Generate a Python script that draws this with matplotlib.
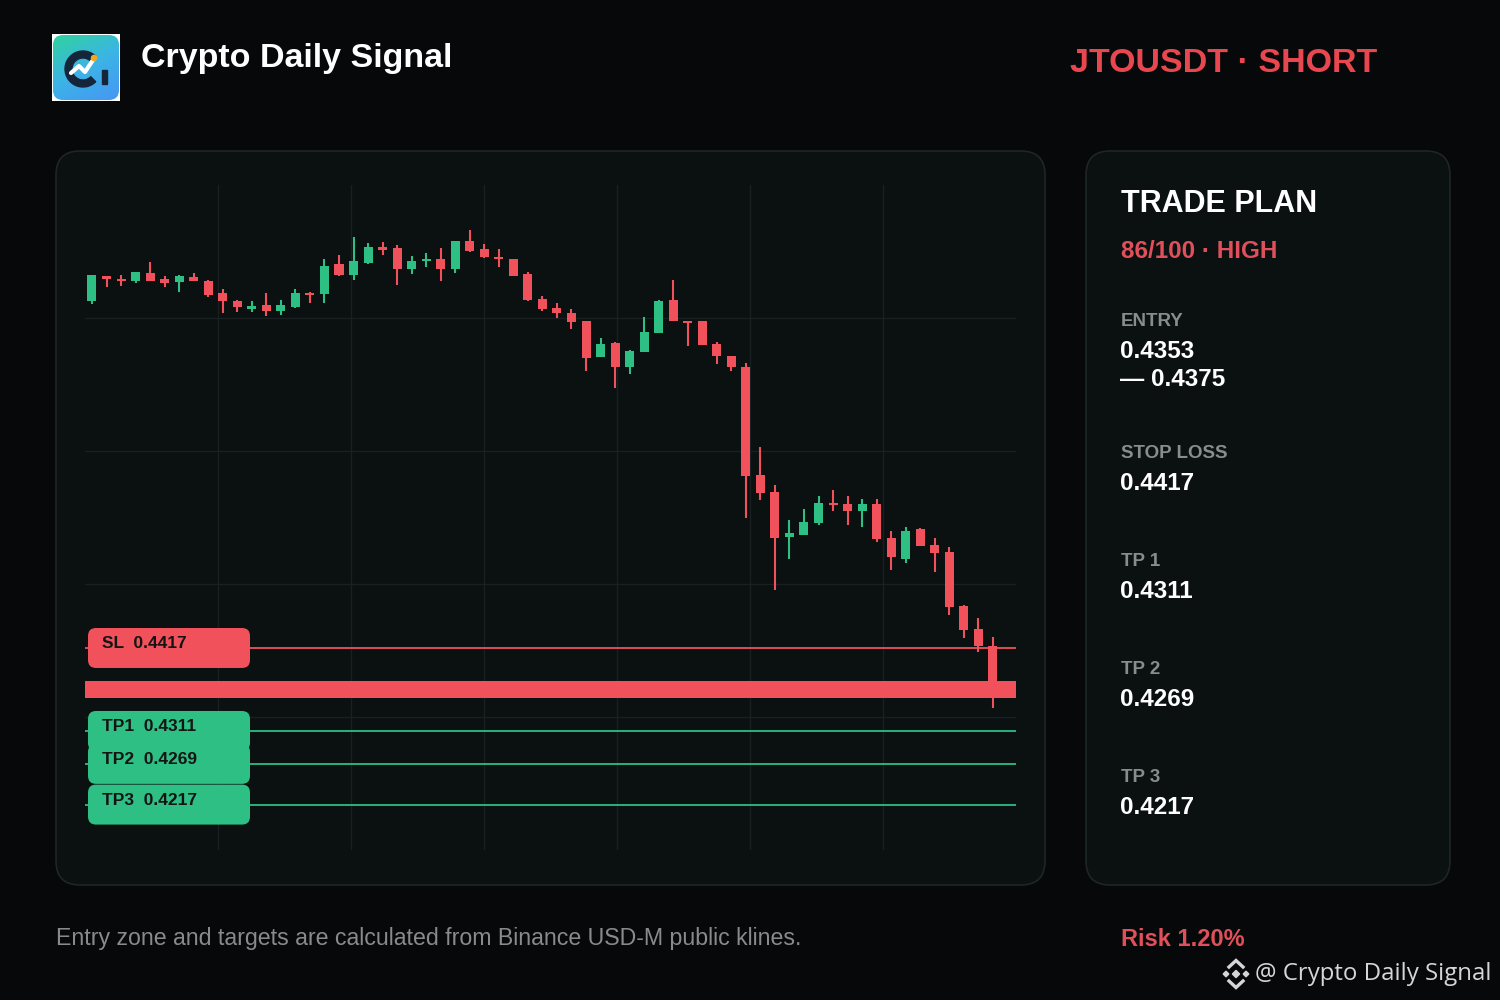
import numpy as np
import matplotlib.pyplot as plt
from matplotlib.patches import FancyBboxPatch, Polygon, Circle, Wedge, Rectangle
from matplotlib.colors import LinearSegmentedColormap

plt.rcParams['font.family'] = ['Liberation Sans', 'DejaVu Sans']

BG = '#060809'
PANEL = '#0b1011'
EDGE = '#1e2628'
GRID = '#1a2022'
RED = '#f0515b'
GREEN = '#2dbf84'
GRAY = '#878c8e'

symbol = 'JTOUSDT'
side = 'SHORT'
score = '86/100 · HIGH'
risk = 'Risk 1.20%'

# 1h klines
opens = [0.4860, 0.4892, 0.4888, 0.4886, 0.4896, 0.4888, 0.4884, 0.4891, 0.4886, 0.4870,
         0.4860, 0.4850, 0.4855, 0.4847, 0.4853, 0.4870, 0.4869, 0.4907, 0.4893, 0.4909,
         0.4929, 0.4928, 0.4901, 0.4911, 0.4914, 0.4901, 0.4937, 0.4927, 0.4916, 0.4914,
         0.4895, 0.4863, 0.4851, 0.4845, 0.4835, 0.4789, 0.4807, 0.4776, 0.4795, 0.4819,
         0.4861, 0.4835, 0.4835, 0.4805, 0.4790, 0.4776, 0.4638, 0.4616, 0.4559, 0.4561,
         0.4577, 0.4602, 0.4601, 0.4592, 0.4601, 0.4558, 0.4531, 0.4569, 0.4549, 0.4540,
         0.4471, 0.4441, 0.4420]
highs = [0.4893, 0.4892, 0.4893, 0.4897, 0.4910, 0.4892, 0.4893, 0.4896, 0.4887, 0.4876,
         0.4861, 0.4860, 0.4870, 0.4861, 0.4876, 0.4872, 0.4914, 0.4919, 0.4942, 0.4934,
         0.4936, 0.4932, 0.4918, 0.4921, 0.4928, 0.4937, 0.4951, 0.4933, 0.4927, 0.4914,
         0.4897, 0.4867, 0.4858, 0.4850, 0.4835, 0.4813, 0.4808, 0.4798, 0.4840, 0.4861,
         0.4887, 0.4835, 0.4835, 0.4808, 0.4790, 0.4781, 0.4674, 0.4625, 0.4580, 0.4595,
         0.4611, 0.4619, 0.4611, 0.4607, 0.4607, 0.4566, 0.4572, 0.4570, 0.4558, 0.4546,
         0.4472, 0.4455, 0.4431]
lows = [0.4856, 0.4878, 0.4879, 0.4883, 0.4886, 0.4878, 0.4872, 0.4886, 0.4865, 0.4845,
        0.4846, 0.4846, 0.4841, 0.4842, 0.4851, 0.4858, 0.4858, 0.4892, 0.4887, 0.4907,
        0.4919, 0.4881, 0.4895, 0.4904, 0.4886, 0.4896, 0.4923, 0.4915, 0.4904, 0.4892,
        0.4860, 0.4847, 0.4839, 0.4824, 0.4771, 0.4789, 0.4749, 0.4767, 0.4795, 0.4819,
        0.4835, 0.4803, 0.4804, 0.4780, 0.4771, 0.4583, 0.4606, 0.4491, 0.4531, 0.4561,
        0.4574, 0.4592, 0.4574, 0.4572, 0.4552, 0.4517, 0.4526, 0.4547, 0.4514, 0.4459,
        0.4430, 0.4412, 0.4340]
closes = [0.4893, 0.4888, 0.4886, 0.4897, 0.4886, 0.4883, 0.4892, 0.4886, 0.4868, 0.4860,
          0.4853, 0.4854, 0.4847, 0.4855, 0.4870, 0.4868, 0.4905, 0.4893, 0.4911, 0.4929,
          0.4925, 0.4901, 0.4911, 0.4914, 0.4901, 0.4937, 0.4924, 0.4916, 0.4914, 0.4892,
          0.4861, 0.4850, 0.4845, 0.4833, 0.4787, 0.4805, 0.4776, 0.4796, 0.4821, 0.4860,
          0.4835, 0.4832, 0.4804, 0.4790, 0.4776, 0.4637, 0.4615, 0.4558, 0.4564, 0.4578,
          0.4602, 0.4600, 0.4592, 0.4601, 0.4556, 0.4533, 0.4566, 0.4547, 0.4538, 0.4469,
          0.4440, 0.4420, 0.4361]

entry_low = 0.4353
entry_high = 0.4375
stop_loss = 0.4417
tp_names = ['TP1', 'TP2', 'TP3']
tp_values = [0.4311, 0.4269, 0.4217]

fig = plt.figure(figsize=(15, 10), dpi=100, facecolor=BG)

# background layer in pixel coords
bg = fig.add_axes([0, 0, 1, 1], zorder=0)
bg.set_facecolor(BG)
bg.axis('off')


def rbox(a, x0, y0, x1, y1, r, **kw):
    p = FancyBboxPatch((x0, y0), x1 - x0, y1 - y0,
                       boxstyle=f'round,pad=0,rounding_size={r}', **kw)
    a.add_patch(p)
    return p


rbox(bg, 56, 151, 1045, 885, 24, facecolor=PANEL, edgecolor=EDGE, lw=1.2)
rbox(bg, 1086, 151, 1450, 885, 24, facecolor=PANEL, edgecolor=EDGE, lw=1.2)

# logo
bg.add_patch(Rectangle((52, 34), 68, 67, facecolor='white', edgecolor='none', zorder=1))
gx, gy = np.meshgrid(np.linspace(0, 1, 68), np.linspace(0, 1, 67))
cmap = LinearSegmentedColormap.from_list('logo', ['#2fd49b', '#3cb4e6', '#4696f4'])
im = bg.imshow(gx * 0.35 + gy * 0.65, cmap=cmap, extent=(52, 120, 101, 34),
               aspect='auto', zorder=2)
clip = rbox(bg, 53, 35, 119, 100, 10, facecolor='none', edgecolor='none')
im.set_clip_path(clip)
bg.add_patch(Wedge((83, 69), 18, 45, 315, width=7, color='#16263a', zorder=3))
bg.plot([71, 79, 85, 93], [73, 66, 72, 60], color='white', lw=3, zorder=4,
        solid_capstyle='round', solid_joinstyle='round')
bg.add_patch(Circle((94, 58), 2.6, color='#f5a623', zorder=5))
bg.add_patch(Rectangle((102, 70), 4.5, 14, color='#16263a', zorder=3))

bg.text(141, 58, 'Crypto Daily Signal', color='white', fontsize=24.5, fontweight='bold',
        va='center', ha='left')
bg.text(1070, 64, f'{symbol} · {side}', color='#e8474f', fontsize=24.5, fontweight='bold',
        va='center', ha='left')

# trade plan panel
bg.text(1121, 204, 'TRADE PLAN', color='white', fontsize=22, fontweight='bold', va='center')
bg.text(1121, 252, score, color='#e0505a', fontsize=17.5, fontweight='bold', va='center')
rows = [('ENTRY', 321, [f'{entry_low:.4f}', f'— {entry_high:.4f}']),
        ('STOP LOSS', 453, [f'{stop_loss:.4f}']),
        ('TP 1', 561, [f'{tp_values[0]:.4f}']),
        ('TP 2', 669, [f'{tp_values[1]:.4f}']),
        ('TP 3', 777, [f'{tp_values[2]:.4f}'])]
for lab, yy, vals in rows:
    bg.text(1121, yy, lab, color=GRAY, fontsize=13.5, fontweight='bold', va='center')
    for k, v in enumerate(vals):
        bg.text(1120, yy + 31 + k * 27, v, color='white', fontsize=17.5, fontweight='bold',
                va='center')

bg.text(56, 938, 'Entry zone and targets are calculated from Binance USD-M public klines.',
        color='#8a8a8a', fontsize=16.7, va='center')
bg.text(1121, 939, risk, color='#e0505a', fontsize=17, fontweight='bold', va='center')

# watermark with binance-ish mark
cx, cy = 1236, 974
wm = '#d6d6d6'


def diamond(x, y, r):
    return [(x, y - r), (x + r, y), (x, y + r), (x - r, y)]


for d in [diamond(cx, cy, 3.6), diamond(cx - 10, cy, 2.8), diamond(cx + 10, cy, 2.8)]:
    bg.add_patch(Polygon(d, closed=True, color=wm))
for sgn in (1, -1):
    bg.plot([cx - 7, cx, cx + 7], [cy - sgn * 7, cy - sgn * 13.5, cy - sgn * 7],
            color=wm, lw=2.4, solid_joinstyle='miter')
bg.text(1255, 974, '@ Crypto Daily Signal', color=wm, fontsize=17.3, va='center',
        family=['Open Sans', 'DejaVu Sans'])

bg.set_xlim(0, 1500)
bg.set_ylim(1000, 0)

# candle chart
ax = fig.add_axes([85 / 1500, 150 / 1000, 931 / 1500, 665 / 1000], zorder=1)
ax.set_facecolor('none')
xmin, xmax = -0.48, 63.59
ymin, ymax = 0.41590, 0.50083
ax.set_xlim(xmin, xmax)
ax.set_ylim(ymin, ymax)
for s in ax.spines.values():
    s.set_visible(False)
ax.set_xticks(np.linspace(xmin, xmax, 8)[1:-1])
ax.set_yticks(np.linspace(ymin, ymax, 6)[1:-1])
ax.tick_params(length=0, labelbottom=False, labelleft=False)
ax.grid(True, color=GRID, lw=1)
ax.set_axisbelow(True)

o, h, l, c = (np.array(v) for v in (opens, highs, lows, closes))
x = np.arange(len(c))
cols = np.where(c >= o, GREEN, RED)
ax.axhspan(entry_low, entry_high, color=RED, lw=0, zorder=2)
ax.axhline(stop_loss, color=RED, lw=1.3, zorder=2)
for tp in tp_values:
    ax.axhline(tp, color=GREEN, lw=1.3, zorder=2)
ax.vlines(x, l, h, colors=cols, lw=1.5, zorder=3)
ax.bar(x, np.maximum(np.abs(c - o), 0.00025), bottom=np.minimum(o, c), width=0.62,
       color=cols, zorder=4)

# level tags on top
fg = fig.add_axes([0, 0, 1, 1], zorder=2)
fg.set_facecolor('none')
fg.axis('off')
tags = [('SL', stop_loss, RED)] + [(n, v, GREEN) for n, v in zip(tp_names, tp_values)]
for name, val, col in tags:
    py = 1000 - ax.transData.transform((0, val))[1]
    rbox(fg, 88, py - 20, 250, py + 20, 8, facecolor=col, edgecolor='none')
    fg.text(102, py - 4, f'{name}  {val:.4f}', color='#141414', fontsize=12.5,
            fontweight='bold', va='center')
fg.set_xlim(0, 1500)
fg.set_ylim(1000, 0)

fig.savefig('out.png', dpi=100, facecolor=BG)
